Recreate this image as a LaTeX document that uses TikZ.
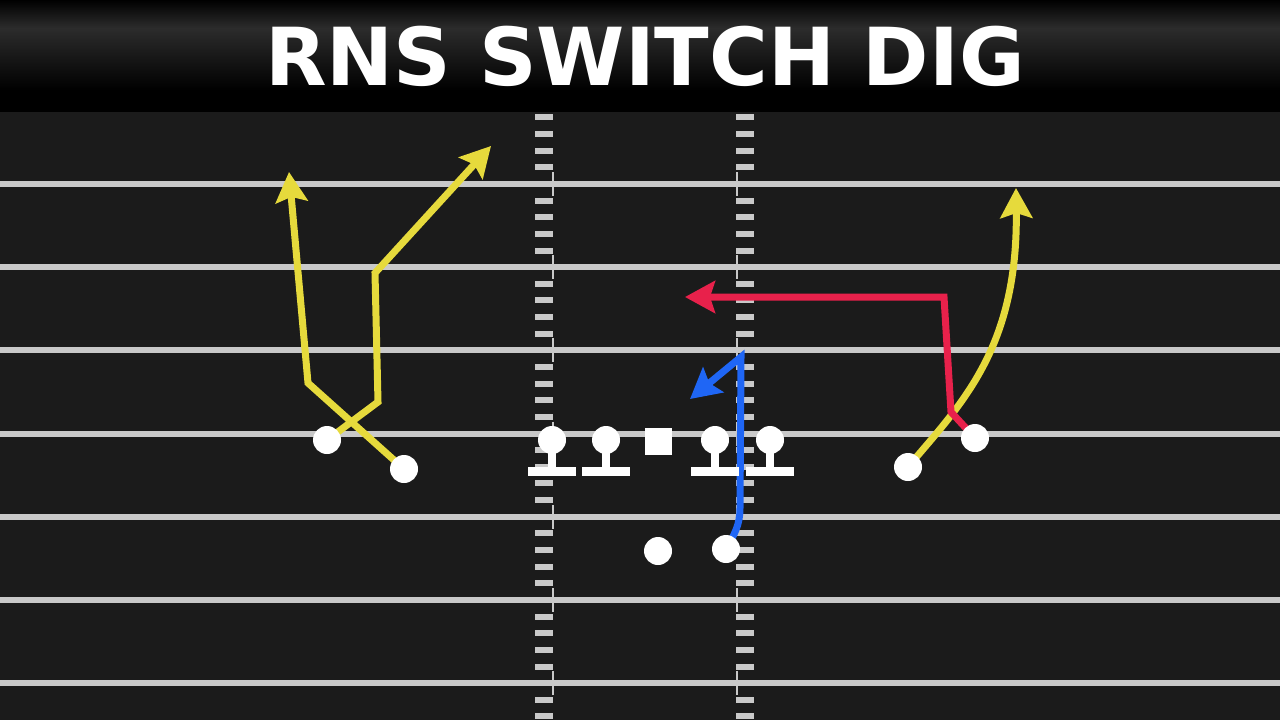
\documentclass[tikz,border=0pt]{standalone}
\usepackage{xcolor}
\usepackage{fontspec}
\setmainfont{DejaVu Sans}
\usetikzlibrary{arrows.meta}

\definecolor{fieldbg}{HTML}{1B1B1B}
\definecolor{chalk}{HTML}{C9C9C9}
\definecolor{barmid}{HTML}{2C2C2C}
\definecolor{routeyellow}{HTML}{E6DA3C}
\definecolor{routered}{HTML}{E8214B}
\definecolor{routeblue}{HTML}{1F66F5}

\pgfdeclarelayer{field}
\pgfdeclarelayer{routes}
\pgfsetlayers{field,routes,main}

\begin{document}
\begin{tikzpicture}[x=1pt,y=-1pt,
    player/.style={circle,fill=white,inner sep=0pt,minimum size=28pt},
    center/.style={rectangle,fill=white,inner sep=0pt,minimum size=27pt},
    route/.style={line width=7pt,line join=miter,
      -{Stealth[length=30pt,width=32pt,inset=5pt]}},
    yardline/.style={chalk,line width=6pt},
    hashmark/.style={fill=chalk}]
  \useasboundingbox (0,0) rectangle (1280,720);

  \begin{pgfonlayer}{field}
    % field and title bar
    \fill[fieldbg] (0,112) rectangle (1280,720);
    \shade[top color=black,bottom color=barmid] (0,0) rectangle (1280,28);
    \shade[top color=barmid,bottom color=black] (0,28) rectangle (1280,90);
    \fill[black] (0,90) rectangle (1280,112);

    \foreach \k in {0,...,6}
      \draw[yardline] (0,{184+83.2*\k}) -- (1280,{184+83.2*\k});

    \foreach \i in {0,...,36}{
      \fill[hashmark] (535,{114.4+16.64*\i}) rectangle ++(18,6);
      \fill[hashmark] (736,{114.4+16.64*\i}) rectangle ++(18,6);
    }
    \foreach \k in {0,...,6}{
      \draw[chalk,line width=2.5pt] (553,{172+83.2*\k}) -- ++(0,24);
      \draw[chalk,line width=2.5pt] (737,{172+83.2*\k}) -- ++(0,24);
    }
  \end{pgfonlayer}

  \node[text=white,font=\fontsize{80}{80}\selectfont\bfseries] (title)
    at (645,56) {RNS SWITCH DIG};

  % offense
  \node[player] (xwr) at (327,440) {};
  \node[player] (slotl) at (404,469) {};
  \node[player] (slotr) at (908,467) {};
  \node[player] (zwr) at (975,438) {};
  \node[player] (qb) at (658,551) {};
  \node[player] (rb) at (726,549) {};
  \node[center] (ctr) at (658,441) {};
  \foreach \name/\x in {lt/552,lg/606,rg/715,rt/770}{
    \node[player] (\name) at (\x,440) {};
    \fill[white] (\x-4,440) rectangle (\x+4,472);
    \fill[white] (\x-24,467) rectangle (\x+24,476);
  }

  \coordinate (postbreak) at (308,383);
  \coordinate (posttip) at (289,172);
  \coordinate (digstem) at (378,402);
  \coordinate (digbreak) at (375,273);
  \coordinate (digtip) at (491,146);
  \coordinate (wheeltip) at (1016,188);
  \coordinate (dragstem) at (951,412);
  \coordinate (dragbreak) at (944,297);
  \coordinate (dragtip) at (685,297);
  \coordinate (flatstem) at (740,508);
  \coordinate (flatbreak) at (741,357);
  \coordinate (flattip) at (690,399);

  \begin{pgfonlayer}{routes}
    \draw[route,routeyellow] (slotl.center) -- (postbreak) -- (posttip);
    \draw[route,routeyellow] (xwr.center) -- (digstem) -- (digbreak) -- (digtip);
    \draw[route,routeyellow] (slotr.center) .. controls (960,405) and (1018,350) .. (wheeltip);
    \draw[route,routered] (zwr.center) -- (dragstem) -- (dragbreak) -- (dragtip);
    \draw[route,routeblue] (rb.center) to[out=60,in=-90] (flatstem) -- (flatbreak) -- (flattip);
  \end{pgfonlayer}
\end{tikzpicture}
\end{document}
